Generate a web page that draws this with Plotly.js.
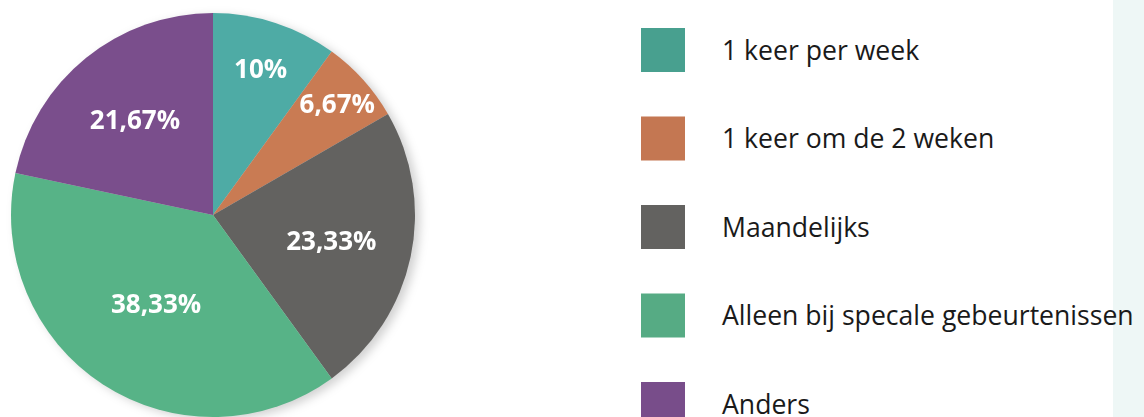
<!DOCTYPE html>
<html>
<head>
<meta charset="utf-8">
<script src="https://cdn.plot.ly/plotly-3.0.1.min.js"></script>
<style>
  html, body { margin: 0; padding: 0; background: #ffffff; }
  #wrap { width: 1144px; height: 417px; position: relative;
          background: linear-gradient(to right, #ffffff 0px, #ffffff 1113px, #eef7f6 1113px, #eef7f6 1144px); }
  #chart { width: 1144px; height: 417px; }
  .pielayer { filter: drop-shadow(5px 3px 5px rgba(0,0,0,0.18)); }
</style>
</head>
<body>
<div id="wrap"><div id="chart"></div></div>
<script>
// Data
const categories = ["1 keer per week", "1 keer om de 2 weken", "Maandelijks", "Alleen bij specale gebeurtenissen", "Anders"];
const values = [10, 6.67, 23.33, 38.33, 21.67];
const sliceColors = ["#4eaba5", "#c97b53", "#636260", "#57b387", "#7a4e8c"];
const legendColors = ["#48a08f", "#c47752", "#636260", "#56ab84", "#784d8a"];

const pctText = values.map(v => String(v).replace('.', ',') + '%');
const idx = categories.map((_, i) => i);

const pie = {
  type: 'pie',
  values: values,
  labels: categories,
  text: pctText,
  textinfo: 'text',
  textposition: 'inside',
  insidetextorientation: 'horizontal',
  insidetextfont: { family: 'Open Sans', size: 26, color: '#ffffff', weight: 700 },
  marker: { colors: sliceColors, line: { width: 0 } },
  sort: false,
  direction: 'clockwise',
  rotation: 0,
  showlegend: false,
  hoverinfo: 'none',
  domain: { x: [11/1144, 415/1144], y: [0, 404/417] }
};

const legendBoxes = {
  type: 'scatter',
  mode: 'markers',
  x: idx.map(() => 0),
  y: idx,
  xaxis: 'x', yaxis: 'y',
  marker: { symbol: 'square', size: 44, color: legendColors, line: { width: 0 } },
  showlegend: false,
  hoverinfo: 'none',
  cliponaxis: false
};

const legendText = {
  type: 'scatter',
  mode: 'text',
  x: idx.map(() => 1),
  y: idx.map(i => i + 0.035),
  text: categories,
  textposition: 'middle right',
  textfont: { family: 'Open Sans', size: 26.6, color: '#1a1a1a' },
  xaxis: 'x', yaxis: 'y',
  showlegend: false,
  hoverinfo: 'none',
  cliponaxis: false
};

const layout = {
  width: 1144,
  height: 417,
  margin: { l: 0, r: 0, t: 0, b: 0, pad: 0 },
  paper_bgcolor: 'rgba(0,0,0,0)',
  plot_bgcolor: 'rgba(0,0,0,0)',
  showlegend: false,
  font: { family: 'Open Sans' },
  uniformtext: { mode: 'show', minsize: 26 },
  xaxis: { domain: [0, 1], range: [-663/59, (1144-663)/59], visible: false, fixedrange: true },
  yaxis: { domain: [0, 1], range: [(417-50)/88.5, -50/88.5], visible: false, fixedrange: true }
};

Plotly.newPlot('chart', [pie, legendBoxes, legendText], layout, { displayModeBar: false, staticPlot: true });
</script>
</body>
</html>
